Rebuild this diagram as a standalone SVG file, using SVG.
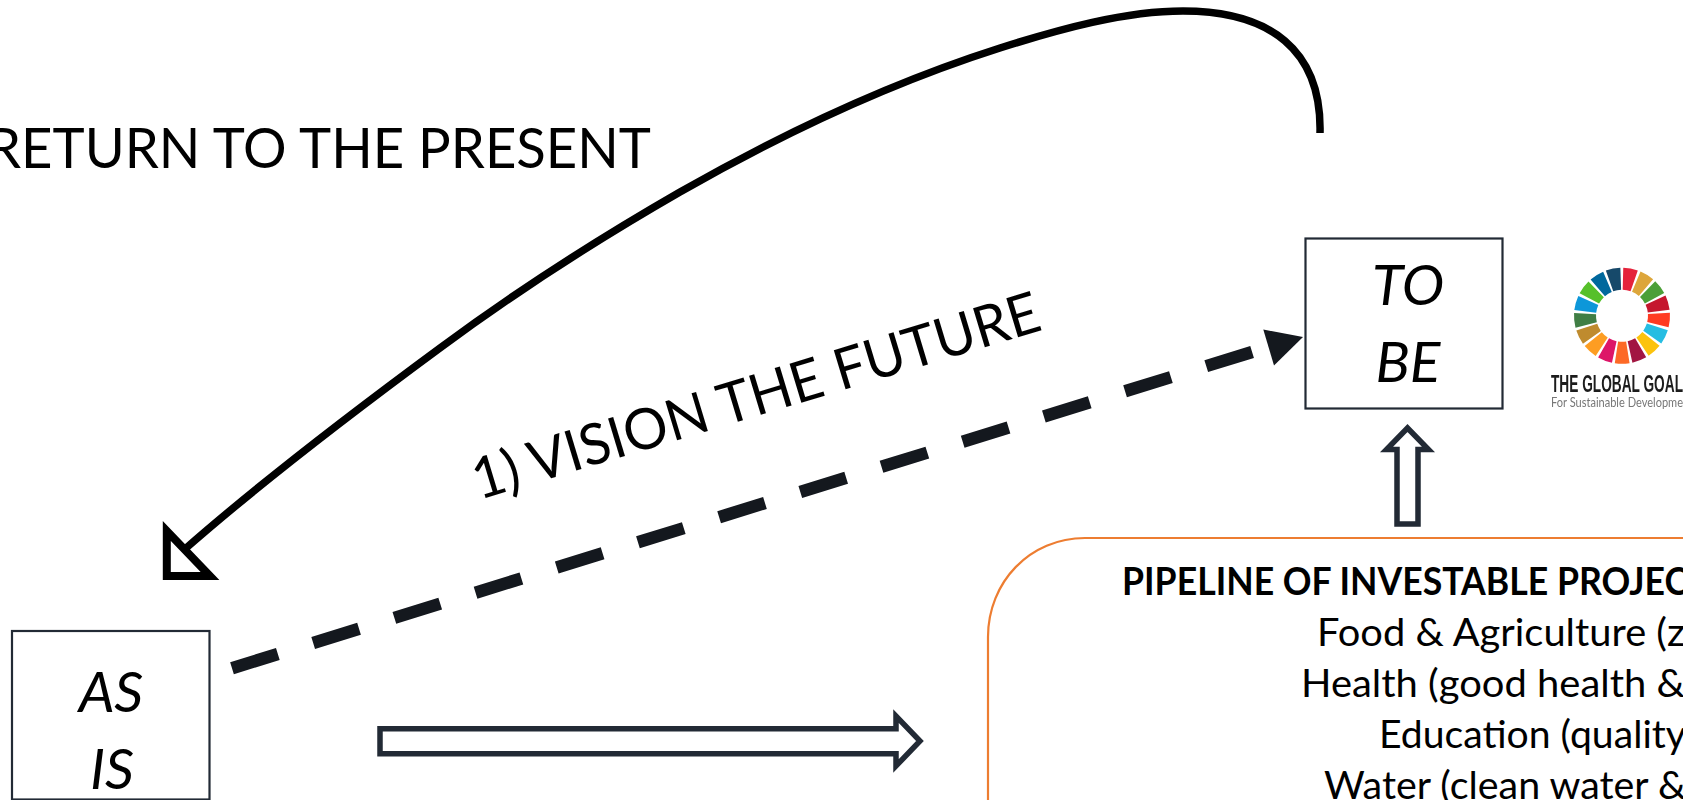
<svg xmlns="http://www.w3.org/2000/svg" width="1683" height="800" viewBox="0 0 1683 800">
<style>
text{font-family:"Lato","Open Sans",sans-serif;fill:#000}
.box{fill:#fff;stroke:#222a35;stroke-width:2.2}
.big{font-size:57px}
.it{font-size:57px;font-style:italic;text-anchor:middle}
.ln{font-size:38.5px}
.hollow{fill:#fff;stroke:#222a35;stroke-width:5.5;stroke-linejoin:miter}
.seg{fill:none;stroke-width:22}
</style>
<defs><filter id="soft" x="-5%" y="-5%" width="110%" height="110%"><feGaussianBlur stdDeviation="0.5"/></filter>
<circle id="ring" cx="0" cy="0" r="37" pathLength="17" stroke-dasharray="0.84 16.16" class="seg"/></defs>
<rect width="1683" height="800" fill="#fff"/>
<g id="connectors">
<path d="M185,549C250,492 345,418 440,348C525,285 600,238 680,192C780,135 890,83 1000,48C1060,29 1125,11 1183,11C1270,11 1322,50 1320,133" fill="none" stroke="#000" stroke-width="7.5"/>
<polygon points="166.8,531 166.8,576 210,576" fill="#fff" stroke="#000" stroke-width="8"/>
<path d="M232,668.2L1268,347" fill="none" stroke="#14181e" stroke-width="12.5" stroke-dasharray="48 37"/>
<polygon points="1303,337 1263.3,329.5 1274,365.5" fill="#14181e"/>
<polygon class="hollow" points="380,728.7 896,728.7 896,716 920,741 896,766 896,753.7 380,753.7"/>
<polygon class="hollow" points="1397,524 1397,449.5 1386.5,449.5 1407.5,428 1428.5,449.5 1418,449.5 1418,524"/>
</g>
<g id="label-return"><text class="big" x="-13" y="168" textLength="664" lengthAdjust="spacingAndGlyphs">RETURN TO THE PRESENT</text></g>
<g id="label-vision"><text class="big" transform="translate(479,500) rotate(-16.8)" textLength="590" lengthAdjust="spacingAndGlyphs">1) VISION THE FUTURE</text></g>
<g id="as-is"><rect class="box" x="12" y="631" width="197.5" height="168.5"/>
<text class="it" x="111" y="712">AS</text><text class="it" x="112" y="789">IS</text></g>
<g id="to-be"><rect class="box" x="1305.5" y="238.5" width="197" height="170"/>
<text class="it" x="1408" y="305">TO</text><text class="it" x="1408" y="382">BE</text></g>
<g id="global-goals" filter="url(#soft)">
<g transform="translate(1622,315.8)">
<use href="#ring" stroke="#e5243b" transform="rotate(-88.5)"/>
<use href="#ring" stroke="#dda63a" transform="rotate(-67.32)"/>
<use href="#ring" stroke="#4c9f38" transform="rotate(-46.15)"/>
<use href="#ring" stroke="#c5192d" transform="rotate(-24.97)"/>
<use href="#ring" stroke="#ff3a21" transform="rotate(-3.79)"/>
<use href="#ring" stroke="#26bde2" transform="rotate(17.38)"/>
<use href="#ring" stroke="#fcc30b" transform="rotate(38.56)"/>
<use href="#ring" stroke="#a21942" transform="rotate(59.74)"/>
<use href="#ring" stroke="#fd6925" transform="rotate(80.91)"/>
<use href="#ring" stroke="#dd1367" transform="rotate(102.09)"/>
<use href="#ring" stroke="#fd9d24" transform="rotate(123.26)"/>
<use href="#ring" stroke="#bf8b2e" transform="rotate(144.44)"/>
<use href="#ring" stroke="#3f7e44" transform="rotate(165.62)"/>
<use href="#ring" stroke="#0a97d9" transform="rotate(186.79)"/>
<use href="#ring" stroke="#56c02b" transform="rotate(207.97)"/>
<use href="#ring" stroke="#00689d" transform="rotate(229.15)"/>
<use href="#ring" stroke="#19486a" transform="rotate(250.32)"/>
</g>
<text x="1551" y="391.5" textLength="132" lengthAdjust="spacingAndGlyphs" style="font-family:'Liberation Sans',sans-serif;font-weight:700;font-size:23px;fill:#1c1c1c">THE GLOBAL GOAL</text>
<text x="1551" y="407" textLength="132" lengthAdjust="spacingAndGlyphs" style="font-size:13.5px;fill:#777">For Sustainable Developme</text>
</g>
<g id="pipeline">
<path d="M1683,538H1085C1030,538 988,582 988,637V800" fill="#fff" stroke="#ed7d31" stroke-width="2.2"/>
<text class="ln" x="1122" y="595" style="font-weight:700" textLength="566" lengthAdjust="spacingAndGlyphs">PIPELINE OF INVESTABLE PROJEC</text>
<text class="ln" x="1317" y="646" textLength="368" lengthAdjust="spacingAndGlyphs">Food &amp; Agriculture (z</text>
<text class="ln" x="1301" y="697" textLength="384" lengthAdjust="spacingAndGlyphs">Health (good health &amp;</text>
<text class="ln" x="1379" y="748" textLength="307" lengthAdjust="spacingAndGlyphs">Education (quality</text>
<text class="ln" x="1324" y="799" textLength="362" lengthAdjust="spacingAndGlyphs">Water (clean water &amp;</text>
</g>
</svg>
